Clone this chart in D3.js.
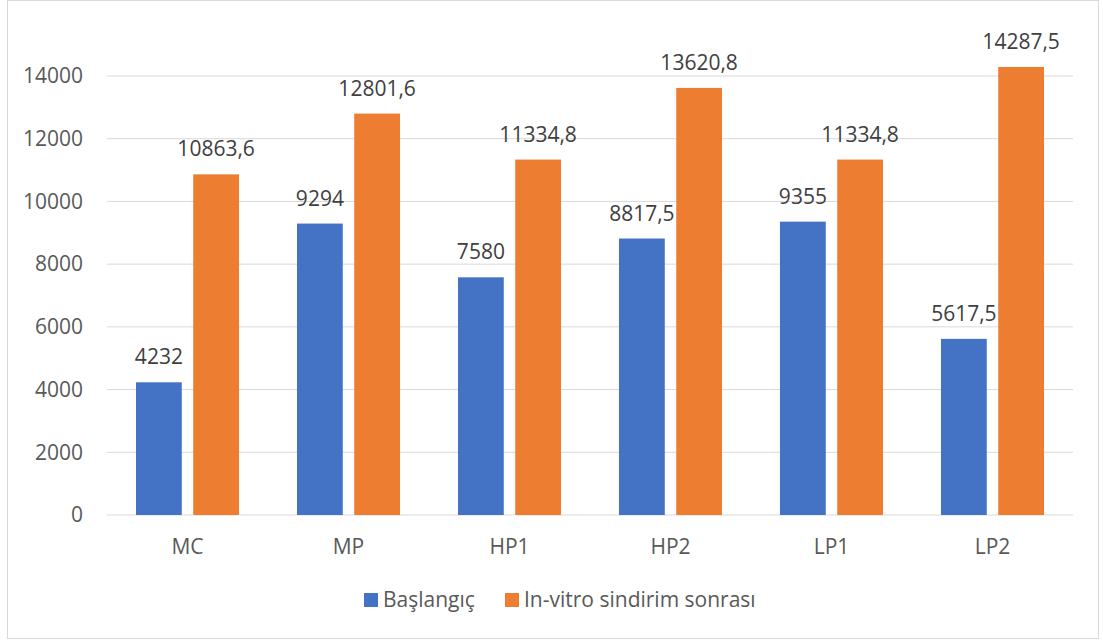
<!DOCTYPE html>
<html>
<head>
<meta charset="utf-8">
<script src="https://cdnjs.cloudflare.com/ajax/libs/d3/7.8.5/d3.min.js"></script>
<style>
  body { margin: 0; background: #fff; }
  text { font-family: "Open Sans", "Noto Sans", sans-serif; }
</style>
</head>
<body>
<div id="chart"></div>
<script>
var categories = ["MC", "MP", "HP1", "HP2", "LP1", "LP2"];
var baslangic = [4232, 9294, 7580, 8817.5, 9355, 5617.5];
var sonrasi = [10863.6, 12801.6, 11334.8, 13620.8, 11334.8, 14287.5];
var seriesNames = ["Başlangıç", "In-vitro sindirim sonrası"];
var yTicks = [0, 2000, 4000, 6000, 8000, 10000, 12000, 14000];

var svgWidth = 1103;
var svgHeight = 641;
var margin = { top: 76, right: 30, bottom: 126, left: 107 };
var width = svgWidth - margin.left - margin.right;
var height = svgHeight - margin.top - margin.bottom;

var colors = ["#4472c4", "#ed7d31"];

var svg = d3.select("#chart")
  .append("svg")
  .attr("width", svgWidth)
  .attr("height", svgHeight);

// chart border
svg.append("rect")
  .attr("x", 7.5)
  .attr("y", 0.5)
  .attr("width", 1091)
  .attr("height", 638)
  .attr("fill", "#fff")
  .attr("stroke", "#d9d9d9");

var chartGroup = svg.append("g")
  .attr("transform", `translate(${margin.left}, ${margin.top})`);

var x0 = d3.scaleBand()
  .domain(categories)
  .range([0, width])
  .paddingInner(0.36)
  .paddingOuter(0.18);

var x1 = d3.scaleBand()
  .domain(seriesNames)
  .range([0, x0.bandwidth()])
  .paddingInner(0.2);

var y = d3.scaleLinear()
  .domain([0, 14000])
  .range([height, 0]);

// gridlines
chartGroup.selectAll(".grid")
  .data(yTicks)
  .enter()
  .append("line")
  .attr("x1", 0)
  .attr("x2", width)
  .attr("y1", d => y(d))
  .attr("y2", d => y(d))
  .attr("stroke", "#d9d9d9")
  .attr("stroke-width", 1);

// y axis labels
var leftAxis = d3.axisLeft(y).tickValues(yTicks).tickSize(0).tickPadding(24).tickFormat(d3.format("d"));
var yAxis = chartGroup.append("g").call(leftAxis);
yAxis.select(".domain").remove();
yAxis.selectAll("text")
  .attr("fill", "#595959")
  .style("font-size", "21px");

// x axis labels
var bottomAxis = d3.axisBottom(x0).tickSize(0).tickPadding(24);
var xAxis = chartGroup.append("g")
  .attr("transform", `translate(0, ${height})`)
  .call(bottomAxis);
xAxis.select(".domain").remove();
xAxis.selectAll("text")
  .attr("fill", "#595959")
  .style("font-size", "21px");

var rows = categories.map(function(c, i) {
  return { cat: c, values: [baslangic[i], sonrasi[i]] };
});

var groups = chartGroup.selectAll(".cat")
  .data(rows)
  .enter()
  .append("g")
  .attr("transform", d => `translate(${x0(d.cat)}, 0)`);

var fmt = function(v) { return String(v).replace(".", ","); };

groups.selectAll("rect")
  .data(d => d.values.map((v, j) => ({ name: seriesNames[j], value: v, j: j })))
  .enter()
  .append("rect")
  .attr("x", d => x1(d.name))
  .attr("y", d => y(d.value))
  .attr("width", x1.bandwidth())
  .attr("height", d => height - y(d.value))
  .attr("fill", d => colors[d.j]);

groups.selectAll(".lbl")
  .data(d => d.values.map((v, j) => ({ name: seriesNames[j], value: v })))
  .enter()
  .append("text")
  .attr("x", d => x1(d.name) + x1.bandwidth() / 2)
  .attr("y", d => y(d.value) - 18)
  .attr("text-anchor", "middle")
  .attr("fill", "#404040")
  .style("font-size", "21px")
  .text(d => fmt(d.value));

// legend
var legend = svg.append("g").attr("transform", "translate(364, 600)");
var legendX = [0, 141];
seriesNames.forEach(function(name, j) {
  var g = legend.append("g").attr("transform", `translate(${legendX[j]}, 0)`);
  g.append("rect")
    .attr("x", 0).attr("y", -7)
    .attr("width", 14).attr("height", 14)
    .attr("fill", colors[j]);
  g.append("text")
    .attr("x", 19).attr("y", 7)
    .attr("fill", "#595959")
    .style("font-size", "21px")
    .text(name);
});
</script>
</body>
</html>
